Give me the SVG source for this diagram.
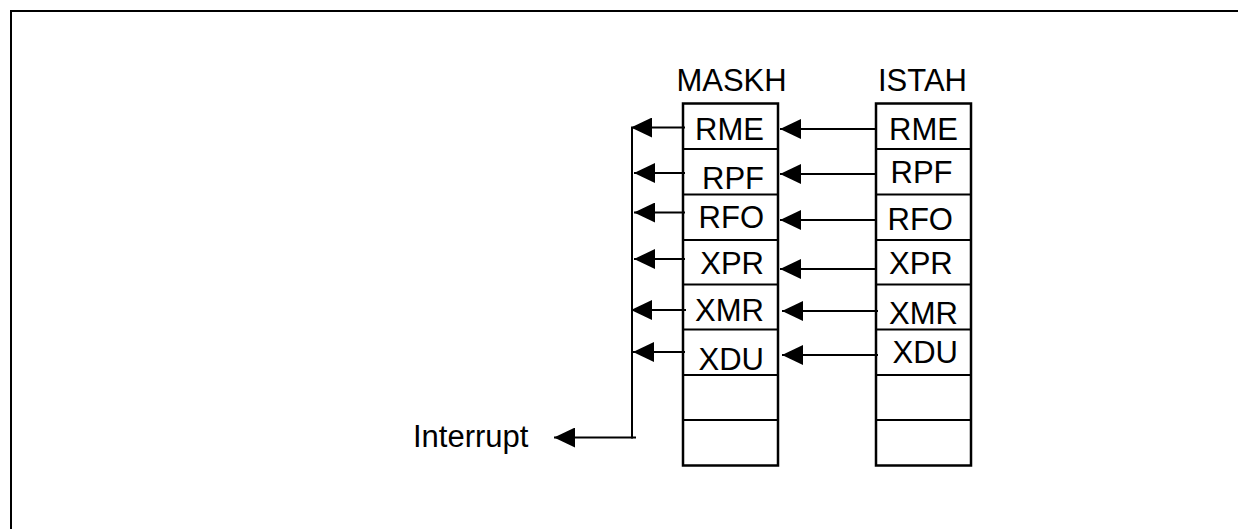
<svg xmlns="http://www.w3.org/2000/svg" width="1238" height="529" viewBox="0 0 1238 529">
<style>
text{font-family:"Liberation Sans",Arial,sans-serif;font-size:31px;fill:#000}
.box{fill:#fff;stroke:#000;stroke-width:2.5}
.ln{stroke:#000;stroke-width:2;fill:none}
</style>
<defs>
<marker id="ah" viewBox="0 0 21 20" refX="21" refY="10" markerWidth="21" markerHeight="20" markerUnits="userSpaceOnUse" orient="auto">
<path d="M0,0 L21,10 L0,20 z" fill="#000"/>
</marker>
</defs>
<rect x="0" y="0" width="1238" height="529" fill="#fff"/>
<path d="M11,529 V11 H1238" class="ln" stroke-width="2.5"/>

<g id="maskh">
<text x="731.5" y="91" text-anchor="middle">MASKH</text>
<rect class="box" x="683" y="103.5" width="95" height="362"/>
<path class="ln" stroke-width="2.5" d="M683,149 H778 M683,194.5 H778 M683,240 H778 M683,284.5 H778 M683,329.5 H778 M683,375 H778 M683,420 H778"/>
<text x="764" y="140" text-anchor="end">RME</text>
<text x="764" y="189" text-anchor="end">RPF</text>
<text x="764" y="228" text-anchor="end">RFO</text>
<text x="764" y="274" text-anchor="end">XPR</text>
<text x="764" y="320.5" text-anchor="end">XMR</text>
<text x="764" y="370" text-anchor="end">XDU</text>
</g>

<g id="istah">
<text x="922.5" y="91" text-anchor="middle">ISTAH</text>
<rect class="box" x="876" y="103.5" width="95" height="362"/>
<path class="ln" stroke-width="2.5" d="M876,149 H971 M876,194.5 H971 M876,240 H971 M876,284.5 H971 M876,329.5 H971 M876,375 H971 M876,420 H971"/>
<text x="889" y="140">RME</text>
<text x="890.5" y="182.5">RPF</text>
<text x="887.5" y="230">RFO</text>
<text x="889" y="274">XPR</text>
<text x="889" y="324">XMR</text>
<text x="892.5" y="363">XDU</text>
</g>

<g id="interrupt">
<text x="413" y="447">Interrupt</text>
</g>

<g id="connectors">
<line class="ln" x1="876" y1="129" x2="780" y2="129" marker-end="url(#ah)"/>
<line class="ln" x1="876" y1="174" x2="780" y2="174" marker-end="url(#ah)"/>
<line class="ln" x1="876" y1="220" x2="780" y2="220" marker-end="url(#ah)"/>
<line class="ln" x1="876" y1="269" x2="780" y2="269" marker-end="url(#ah)"/>
<line class="ln" x1="878" y1="311" x2="782" y2="311" marker-end="url(#ah)"/>
<line class="ln" x1="878" y1="355" x2="782" y2="355" marker-end="url(#ah)"/>

<line class="ln" x1="685" y1="127.5" x2="631" y2="127.5" marker-end="url(#ah)"/>
<line class="ln" x1="685" y1="173" x2="634" y2="173" marker-end="url(#ah)"/>
<line class="ln" x1="685" y1="212.5" x2="634" y2="212.5" marker-end="url(#ah)"/>
<line class="ln" x1="685" y1="259" x2="634" y2="259" marker-end="url(#ah)"/>
<line class="ln" x1="686" y1="310" x2="631" y2="310" marker-end="url(#ah)"/>
<line class="ln" x1="685" y1="352" x2="633" y2="352" marker-end="url(#ah)"/>

<path class="ln" d="M632,127.5 V437.5 H636"/>
<line class="ln" x1="633" y1="437.5" x2="554" y2="437.5" marker-end="url(#ah)"/>
</g>
</svg>
